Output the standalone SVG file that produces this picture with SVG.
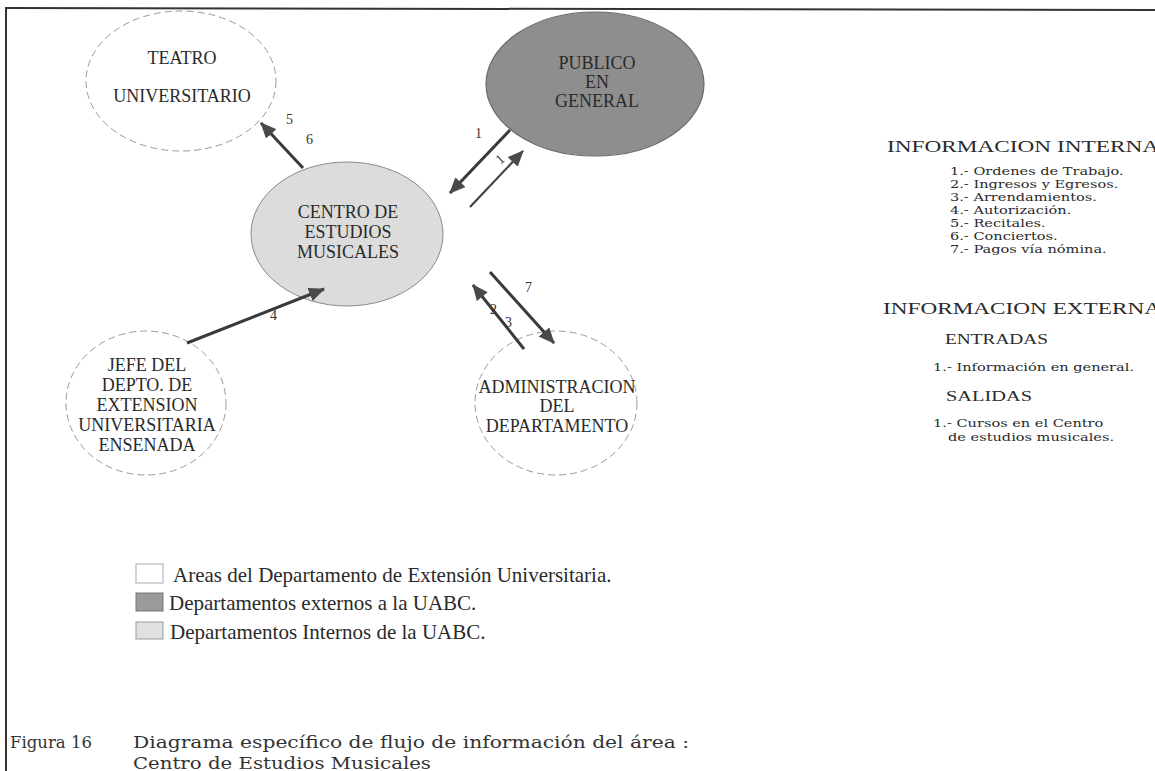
<svg xmlns="http://www.w3.org/2000/svg" width="1155" height="771" viewBox="0 0 1155 771">
  <style>
    .node-text { font-family: "Liberation Serif", "Times New Roman", serif; font-size: 18px; fill: #2a2a2a; text-anchor: middle; }
    .num { font-family: "Liberation Serif", "Times New Roman", serif; font-size: 14px; fill: #333; }
    .flow { stroke: #3a3a3a; stroke-width: 3; fill: none; marker-end: url(#head); }
    .flow-thin { stroke: #444; stroke-width: 2.2; fill: none; marker-end: url(#head); }
    .area { fill: #ffffff; stroke: #9a9a9a; stroke-width: 1; stroke-dasharray: 7 4; }
    .ext { fill: #8e8e8e; stroke: #6a6a6a; stroke-width: 1.2; }
    .int { fill: #dcdcdc; stroke: #8a8a8a; stroke-width: 1; }
    .head { font-family: "Liberation Serif", "Times New Roman", serif; font-size: 17.5px; fill: #2a2a2a; }
    .sub { font-family: "Liberation Serif", "Times New Roman", serif; font-size: 15.5px; fill: #2a2a2a; }
    .item { font-family: "DejaVu Serif", "Liberation Serif", serif; font-size: 11.2px; fill: #2a2a2a; }
    .legend { font-family: "Liberation Serif", "Times New Roman", serif; font-size: 21px; fill: #2a2a2a; }
    .caption { font-family: "DejaVu Serif", "Liberation Serif", serif; font-size: 16.5px; fill: #333; }
  </style>
  <defs>
    <marker id="head" markerUnits="userSpaceOnUse" markerWidth="18" markerHeight="14" refX="15" refY="7" orient="auto">
      <path d="M0,0 L16,7 L0,14 Z" fill="#4a4a4a"/>
    </marker>
  </defs>

  <rect width="1155" height="771" fill="#ffffff"/>

  <!-- page frame -->
  <g id="frame" stroke="#333" fill="none">
    <line x1="5" y1="8" x2="1155" y2="10" stroke-width="2"/>
    <line x1="6" y1="8" x2="6" y2="771" stroke-width="2"/>
  </g>

  <!-- nodes -->
  <g id="teatro">
    <ellipse class="area" cx="181" cy="81" rx="95" ry="70"/>
    <text class="node-text" x="182" y="64">TEATRO</text>
    <text class="node-text" x="182" y="102">UNIVERSITARIO</text>
  </g>
  <g id="publico">
    <ellipse class="ext" cx="595" cy="84" rx="109" ry="72"/>
    <text class="node-text" x="597" y="69">PUBLICO</text>
    <text class="node-text" x="597" y="88">EN</text>
    <text class="node-text" x="597" y="107">GENERAL</text>
  </g>
  <g id="centro">
    <ellipse class="int" cx="347" cy="234" rx="96" ry="72"/>
    <text class="node-text" x="348" y="218">CENTRO DE</text>
    <text class="node-text" x="348" y="238">ESTUDIOS</text>
    <text class="node-text" x="348" y="258">MUSICALES</text>
  </g>
  <g id="jefe">
    <ellipse class="area" cx="146" cy="403" rx="80" ry="72"/>
    <text class="node-text" x="147" y="371">JEFE DEL</text>
    <text class="node-text" x="147" y="391">DEPTO. DE</text>
    <text class="node-text" x="147" y="411">EXTENSION</text>
    <text class="node-text" x="147" y="431">UNIVERSITARIA</text>
    <text class="node-text" x="147" y="451">ENSENADA</text>
  </g>
  <g id="administracion">
    <ellipse class="area" cx="556" cy="403" rx="81" ry="72"/>
    <text class="node-text" x="557" y="393">ADMINISTRACION</text>
    <text class="node-text" x="557" y="412">DEL</text>
    <text class="node-text" x="557" y="432">DEPARTAMENTO</text>
  </g>

  <!-- connectors -->
  <g id="connectors">
    <line class="flow" x1="303" y1="168" x2="261" y2="123"/>
    <line class="flow" x1="510" y1="130" x2="450" y2="193"/>
    <line class="flow-thin" x1="470" y1="207" x2="523" y2="151"/>
    <line class="flow" x1="187" y1="343" x2="324" y2="289"/>
    <line class="flow" x1="490" y1="272" x2="554" y2="343"/>
    <line class="flow" x1="524" y1="349" x2="473" y2="285"/>
    <text class="num" x="286" y="124">5</text>
    <text class="num" x="306" y="144">6</text>
    <text class="num" x="475" y="138">1</text>
    <text class="num" x="497" y="164" transform="rotate(-40 500 160)">1</text>
    <text class="num" x="270" y="320">4</text>
    <text class="num" x="525" y="292">7</text>
    <text class="num" x="490" y="314">2</text>
    <text class="num" x="505" y="327">3</text>
  </g>

  <!-- information summary -->
  <g id="informacion">
    <text class="head" x="887" y="152" textLength="272" lengthAdjust="spacingAndGlyphs">INFORMACION INTERNA</text>
    <text class="head" x="883" y="314" textLength="278" lengthAdjust="spacingAndGlyphs">INFORMACION EXTERNA</text>
    <text class="sub" x="945" y="344" textLength="103" lengthAdjust="spacingAndGlyphs">ENTRADAS</text>
    <text class="sub" x="946" y="401" textLength="86" lengthAdjust="spacingAndGlyphs">SALIDAS</text>
    <!-- wide-set item lines: x' = 1.3x - 285 -->
    <g transform="matrix(1.3 0 0 1 -285 0)">
      <text class="item" x="950" y="175">1.- Ordenes de Trabajo.</text>
      <text class="item" x="950" y="188">2.- Ingresos y Egresos.</text>
      <text class="item" x="950" y="201">3.- Arrendamientos.</text>
      <text class="item" x="950" y="214">4.- Autorización.</text>
      <text class="item" x="950" y="227">5.- Recitales.</text>
      <text class="item" x="950" y="240">6.- Conciertos.</text>
      <text class="item" x="950" y="253">7.- Pagos vía nómina.</text>
      <text class="item" x="937" y="371">1.- Información en general.</text>
      <text class="item" x="937" y="427">1.- Cursos en el Centro</text>
      <text class="item" x="948.5" y="441">de estudios musicales.</text>
    </g>
  </g>

  <!-- legend -->
  <g id="leyenda">
    <rect x="136" y="564" width="27" height="19" fill="#ffffff" stroke="#aaa" stroke-width="1"/>
    <text class="legend" x="173" y="582">Areas del Departamento de Extensión Universitaria.</text>
    <rect x="136" y="593" width="27" height="18" fill="#9a9a9a" stroke="#777" stroke-width="1"/>
    <text class="legend" x="169" y="610">Departamentos externos a la UABC.</text>
    <rect x="136" y="622" width="27" height="17" fill="#e0e0e0" stroke="#999" stroke-width="1"/>
    <text class="legend" x="170" y="639">Departamentos Internos de la UABC.</text>
  </g>

  <!-- caption -->
  <g id="pie">
    <text class="caption" x="10" y="748">Figura 16</text>
    <text class="caption" x="133" y="748" textLength="556" lengthAdjust="spacingAndGlyphs">Diagrama específico de flujo de información del área :</text>
    <text class="caption" x="133" y="769" textLength="298" lengthAdjust="spacingAndGlyphs">Centro de Estudios Musicales</text>
  </g>
</svg>
